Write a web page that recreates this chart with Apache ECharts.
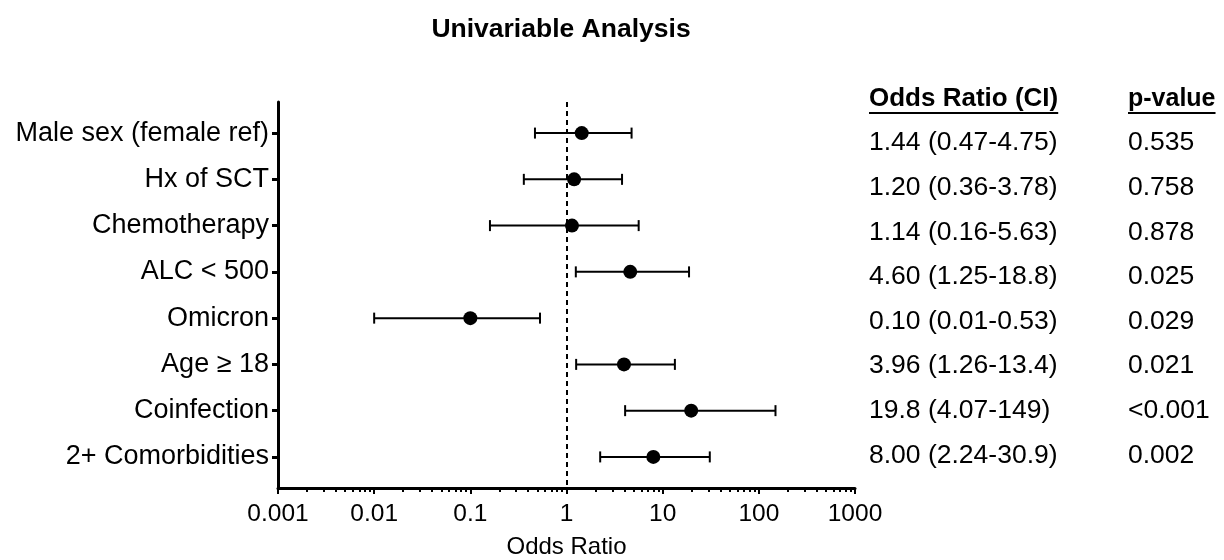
<!DOCTYPE html>
<html><head><meta charset="utf-8">
<script src="https://cdn.jsdelivr.net/npm/echarts@6/dist/echarts.min.js"></script>
<style>html,body{margin:0;padding:0;background:#fff}#c{width:1224px;height:560px}</style>
</head><body><div id="c"></div>
<script>
const categories = ['Male sex (female ref)','Hx of SCT','Chemotherapy','ALC < 500','Omicron','Age \u2265 18','Coinfection','2+ Comorbidities'];
const oddsRatio = [1.44, 1.20, 1.14, 4.60, 0.10, 3.96, 19.8, 8.00];
const ciLow = [0.47, 0.36, 0.16, 1.25, 0.01, 1.26, 4.07, 2.24];
const ciHigh = [4.75, 3.78, 5.63, 18.8, 0.53, 13.4, 149, 30.9];
const orText = ['1.44 (0.47-4.75)','1.20 (0.36-3.78)','1.14 (0.16-5.63)','4.60 (1.25-18.8)','0.10 (0.01-0.53)','3.96 (1.26-13.4)','19.8 (4.07-149)','8.00 (2.24-30.9)'];
const pValues = ['0.535','0.758','0.878','0.025','0.029','0.021','<0.001','0.002'];
const xMajorTicks = [0.001, 0.01, 0.1, 1, 10, 100, 1000];
const xTickLabels = ['0.001','0.01','0.1','1','10','100','1000'];
const referenceValue = 1;
const title = 'Univariable Analysis';
const xAxisName = 'Odds Ratio';
const tableHeaders = ['Odds Ratio (CI)', 'p-value'];

const FONT = 'Liberation Sans, Arial, Helvetica, sans-serif';

// minor log ticks 2..9 within each decade
const minorTicks = [];
for (let d = 0; d < xMajorTicks.length - 1; d++) {
  for (let m = 2; m <= 9; m++) minorTicks.push(+(xMajorTicks[d] * m).toPrecision(6));
}
const rowIdx = categories.map((c, i) => i);

function measure(text, font) {
  const ctx = document.createElement('canvas').getContext('2d');
  ctx.font = font;
  return ctx.measureText(text).width;
}

const chart = echarts.init(document.getElementById('c'), null, {renderer: 'canvas'});

const colX = [869, 1128];
const headerY = 99;
const rowY0 = 143, rowStep = 44.6;
const TFS = 26.5;

const graphics = [
  {type: 'text', x: 561, y: 30, style: {text: title, fontSize: 26.5, fontWeight: 'bold', fontFamily: FONT, fill: '#000', align: 'center', verticalAlign: 'middle'}}
];
tableHeaders.forEach((h, k) => {
  const fs = k === 0 ? 26 : 25;
  const w = measure(h, 'bold ' + fs + 'px ' + FONT);
  graphics.push({type: 'text', x: colX[k], y: headerY, style: {text: h, fontSize: fs, fontWeight: 'bold', fontFamily: FONT, fill: '#000', align: 'left', verticalAlign: 'middle'}});
  graphics.push({type: 'line', shape: {x1: colX[k], y1: 113, x2: colX[k] + w, y2: 113}, style: {stroke: '#000', lineWidth: 2}});
});
rowIdx.forEach(i => {
  graphics.push({type: 'text', x: colX[0], y: rowY0 + rowStep * i, style: {text: orText[i], fontSize: TFS, fontFamily: FONT, fill: '#000', align: 'left', verticalAlign: 'middle'}});
  graphics.push({type: 'text', x: colX[1], y: rowY0 + rowStep * i, style: {text: pValues[i], fontSize: TFS, fontFamily: FONT, fill: '#000', align: 'left', verticalAlign: 'middle'}});
});

const option = {
  animation: false,
  backgroundColor: '#fff',
  grid: {left: 278, right: 369, top: 102, bottom: 72, containLabel: false, outerBoundsMode: 'none'},
  xAxis: [{
    type: 'log', logBase: 10, min: 0.001, max: 1000,
    axisLine: {show: true, onZero: false, lineStyle: {color: '#000', width: 3}},
    axisTick: {show: true, length: 6, lineStyle: {color: '#000', width: 2}},
    axisLabel: {fontSize: 24.5, color: '#000', fontFamily: FONT, margin: 14,
      formatter: v => { let best = 0; xMajorTicks.forEach((t, k) => { if (Math.abs(Math.log10(t) - Math.log10(v)) < Math.abs(Math.log10(xMajorTicks[best]) - Math.log10(v))) best = k; }); return xTickLabels[best]; }},
    splitLine: {show: false},
    name: xAxisName, nameLocation: 'middle', nameGap: 47,
    nameTextStyle: {fontSize: 24, color: '#000', fontFamily: FONT}
  }, {
    type: 'log', logBase: 10, min: 0.001, max: 1000, position: 'bottom',
    axisLine: {show: false, onZero: false},
    axisTick: {show: true, length: 4, customValues: minorTicks, lineStyle: {color: '#000', width: 2}},
    axisLabel: {show: false},
    splitLine: {show: false}
  }],
  yAxis: {
    type: 'value', inverse: true, min: -0.672, max: 7.672,
    axisLine: {show: true, onZero: false, lineStyle: {color: '#000', width: 3}},
    axisTick: {show: true, length: 6, customValues: rowIdx, lineStyle: {color: '#000', width: 3}},
    axisLabel: {customValues: rowIdx, formatter: v => categories[Math.round(v)], fontSize: 27, color: '#000', fontFamily: FONT, margin: 9},
    splitLine: {show: false}
  },
  series: [{
    type: 'custom',
    data: rowIdx.map(i => [ciLow[i], ciHigh[i], i]),
    encode: {x: [0, 1], y: 2},
    renderItem: (params, api) => {
      const y = api.value(2);
      const p1 = api.coord([api.value(0), y]);
      const p2 = api.coord([api.value(1), y]);
      const h = 5.5;
      const st = {stroke: '#000', lineWidth: 2};
      return {type: 'group', children: [
        {type: 'line', shape: {x1: p1[0], y1: p1[1], x2: p2[0], y2: p2[1]}, style: st},
        {type: 'line', shape: {x1: p1[0], y1: p1[1] - h, x2: p1[0], y2: p1[1] + h}, style: st},
        {type: 'line', shape: {x1: p2[0], y1: p2[1] - h, x2: p2[0], y2: p2[1] + h}, style: st}
      ]};
    },
    z: 2
  }, {
    type: 'scatter',
    data: rowIdx.map(i => [oddsRatio[i], i]),
    symbol: 'circle', symbolSize: 14,
    itemStyle: {color: '#000', opacity: 1},
    z: 3,
    markLine: {
      silent: true, symbol: 'none', label: {show: false},
      lineStyle: {color: '#000', width: 2, type: [5, 4], opacity: 1},
      data: [{xAxis: referenceValue}]
    }
  }],
  graphic: graphics
};
chart.setOption(option);
</script>
</body></html>
